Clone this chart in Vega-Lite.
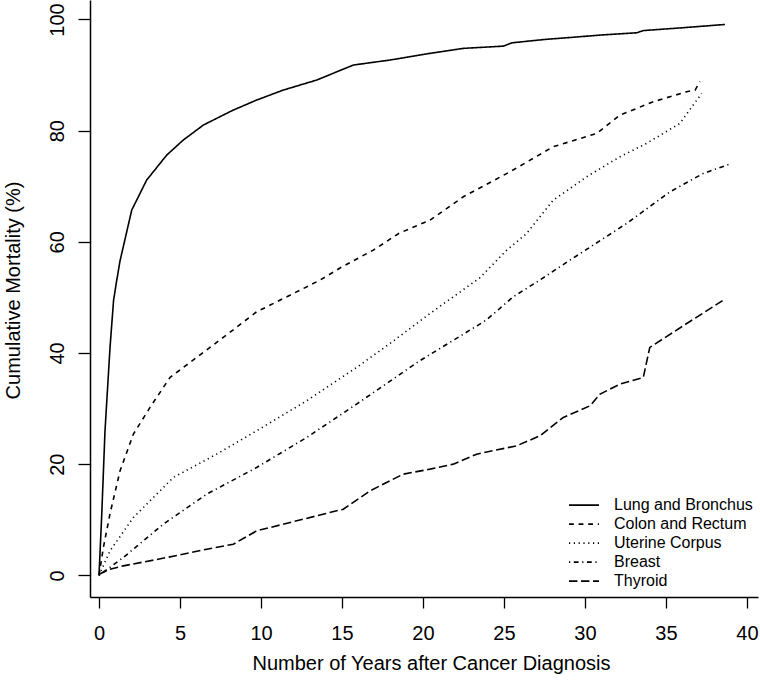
{
  "$schema": "https://vega.github.io/schema/vega-lite/v6.json",
  "width": 668,
  "height": 597,
  "autosize": {"type": "none"},
  "padding": {"left": 90, "top": 0, "right": 2, "bottom": 95},
  "background": "white",
  "config": {
    "view": {"stroke": null},
    "font": "Liberation Sans",
    "axis": {
      "domainColor": "black",
      "domainWidth": 1.5,
      "tickColor": "black",
      "tickWidth": 1.3,
      "labelColor": "black",
      "titleColor": "black",
      "labelFont": "Liberation Sans",
      "titleFont": "Liberation Sans",
      "labelFontSize": 20,
      "titleFontSize": 20,
      "titleFontWeight": "normal",
      "grid": false
    }
  },
  "data": {
    "values": [
      {"cancer": "Lung and Bronchus", "years": 0, "pct": 0},
      {"cancer": "Lung and Bronchus", "years": 0.17, "pct": 11},
      {"cancer": "Lung and Bronchus", "years": 0.37, "pct": 26},
      {"cancer": "Lung and Bronchus", "years": 0.68, "pct": 41},
      {"cancer": "Lung and Bronchus", "years": 0.9, "pct": 49.5},
      {"cancer": "Lung and Bronchus", "years": 1.09, "pct": 53},
      {"cancer": "Lung and Bronchus", "years": 1.3, "pct": 56.6},
      {"cancer": "Lung and Bronchus", "years": 2.02, "pct": 65.7},
      {"cancer": "Lung and Bronchus", "years": 2.94, "pct": 71.1},
      {"cancer": "Lung and Bronchus", "years": 4.18, "pct": 75.6},
      {"cancer": "Lung and Bronchus", "years": 5.2, "pct": 78.3},
      {"cancer": "Lung and Bronchus", "years": 6.44, "pct": 81.0},
      {"cancer": "Lung and Bronchus", "years": 7.67, "pct": 82.8},
      {"cancer": "Lung and Bronchus", "years": 8.29, "pct": 83.7},
      {"cancer": "Lung and Bronchus", "years": 9.73, "pct": 85.5},
      {"cancer": "Lung and Bronchus", "years": 11.38, "pct": 87.3},
      {"cancer": "Lung and Bronchus", "years": 13.44, "pct": 89.1},
      {"cancer": "Lung and Bronchus", "years": 15.7, "pct": 91.8},
      {"cancer": "Lung and Bronchus", "years": 17.96, "pct": 92.7},
      {"cancer": "Lung and Bronchus", "years": 20.43, "pct": 93.9},
      {"cancer": "Lung and Bronchus", "years": 22.5, "pct": 94.8},
      {"cancer": "Lung and Bronchus", "years": 24.96, "pct": 95.2},
      {"cancer": "Lung and Bronchus", "years": 25.5, "pct": 95.8},
      {"cancer": "Lung and Bronchus", "years": 27.5, "pct": 96.4},
      {"cancer": "Lung and Bronchus", "years": 29.28, "pct": 96.8},
      {"cancer": "Lung and Bronchus", "years": 31.0, "pct": 97.2},
      {"cancer": "Lung and Bronchus", "years": 33.19, "pct": 97.6},
      {"cancer": "Lung and Bronchus", "years": 33.6, "pct": 98.0},
      {"cancer": "Lung and Bronchus", "years": 36.0, "pct": 98.5},
      {"cancer": "Lung and Bronchus", "years": 38.64, "pct": 99.1},
      {"cancer": "Colon and Rectum", "years": 0, "pct": 0},
      {"cancer": "Colon and Rectum", "years": 0.27, "pct": 5},
      {"cancer": "Colon and Rectum", "years": 0.68, "pct": 11.1},
      {"cancer": "Colon and Rectum", "years": 1.3, "pct": 18.8},
      {"cancer": "Colon and Rectum", "years": 2.12, "pct": 25.4},
      {"cancer": "Colon and Rectum", "years": 3.15, "pct": 30.2},
      {"cancer": "Colon and Rectum", "years": 4.38, "pct": 35.6},
      {"cancer": "Colon and Rectum", "years": 5.62, "pct": 38.3},
      {"cancer": "Colon and Rectum", "years": 7.67, "pct": 42.8},
      {"cancer": "Colon and Rectum", "years": 9.73, "pct": 47.4},
      {"cancer": "Colon and Rectum", "years": 11.79, "pct": 50.4},
      {"cancer": "Colon and Rectum", "years": 13.64, "pct": 53.1},
      {"cancer": "Colon and Rectum", "years": 15.0, "pct": 55.5},
      {"cancer": "Colon and Rectum", "years": 16.93, "pct": 58.5},
      {"cancer": "Colon and Rectum", "years": 18.5, "pct": 61.5},
      {"cancer": "Colon and Rectum", "years": 20.43, "pct": 63.9},
      {"cancer": "Colon and Rectum", "years": 22.49, "pct": 68.1},
      {"cancer": "Colon and Rectum", "years": 25.37, "pct": 72.6},
      {"cancer": "Colon and Rectum", "years": 28.04, "pct": 77.1},
      {"cancer": "Colon and Rectum", "years": 30.72, "pct": 79.5},
      {"cancer": "Colon and Rectum", "years": 32.16, "pct": 82.8},
      {"cancer": "Colon and Rectum", "years": 34.22, "pct": 85.2},
      {"cancer": "Colon and Rectum", "years": 36.28, "pct": 87.0},
      {"cancer": "Colon and Rectum", "years": 36.8, "pct": 87.3},
      {"cancer": "Colon and Rectum", "years": 37.1, "pct": 88.8},
      {"cancer": "Uterine Corpus", "years": 0, "pct": 0},
      {"cancer": "Uterine Corpus", "years": 0.68, "pct": 4.4},
      {"cancer": "Uterine Corpus", "years": 2.12, "pct": 10.4},
      {"cancer": "Uterine Corpus", "years": 4.59, "pct": 17.6},
      {"cancer": "Uterine Corpus", "years": 7.26, "pct": 21.8},
      {"cancer": "Uterine Corpus", "years": 9.73, "pct": 26.0},
      {"cancer": "Uterine Corpus", "years": 12.82, "pct": 31.4},
      {"cancer": "Uterine Corpus", "years": 15.9, "pct": 37.4},
      {"cancer": "Uterine Corpus", "years": 17.96, "pct": 41.7},
      {"cancer": "Uterine Corpus", "years": 20.43, "pct": 47.1},
      {"cancer": "Uterine Corpus", "years": 21.87, "pct": 50.1},
      {"cancer": "Uterine Corpus", "years": 23.5, "pct": 53.5},
      {"cancer": "Uterine Corpus", "years": 25.17, "pct": 58.5},
      {"cancer": "Uterine Corpus", "years": 26.4, "pct": 61.5},
      {"cancer": "Uterine Corpus", "years": 28.04, "pct": 67.5},
      {"cancer": "Uterine Corpus", "years": 30.1, "pct": 71.7},
      {"cancer": "Uterine Corpus", "years": 32.16, "pct": 75.3},
      {"cancer": "Uterine Corpus", "years": 33.8, "pct": 77.7},
      {"cancer": "Uterine Corpus", "years": 35.86, "pct": 81.3},
      {"cancer": "Uterine Corpus", "years": 37.2, "pct": 86.7},
      {"cancer": "Breast", "years": 0, "pct": 0},
      {"cancer": "Breast", "years": 1.5, "pct": 3.2},
      {"cancer": "Breast", "years": 3.97, "pct": 9.2},
      {"cancer": "Breast", "years": 6.65, "pct": 14.6},
      {"cancer": "Breast", "years": 9.73, "pct": 19.4},
      {"cancer": "Breast", "years": 12.82, "pct": 24.8},
      {"cancer": "Breast", "years": 15.9, "pct": 30.8},
      {"cancer": "Breast", "years": 19.8, "pct": 38.6},
      {"cancer": "Breast", "years": 23.9, "pct": 45.9},
      {"cancer": "Breast", "years": 25.57, "pct": 50.1},
      {"cancer": "Breast", "years": 27.2, "pct": 53.1},
      {"cancer": "Breast", "years": 29.07, "pct": 56.7},
      {"cancer": "Breast", "years": 32.57, "pct": 63.3},
      {"cancer": "Breast", "years": 35.25, "pct": 69.0},
      {"cancer": "Breast", "years": 37.3, "pct": 72.3},
      {"cancer": "Breast", "years": 39.06, "pct": 74.1},
      {"cancer": "Thyroid", "years": 0, "pct": 0.2},
      {"cancer": "Thyroid", "years": 0.68, "pct": 1.1},
      {"cancer": "Thyroid", "years": 1.5, "pct": 1.7},
      {"cancer": "Thyroid", "years": 4.18, "pct": 3.2},
      {"cancer": "Thyroid", "years": 6.65, "pct": 4.7},
      {"cancer": "Thyroid", "years": 8.29, "pct": 5.6},
      {"cancer": "Thyroid", "years": 9.73, "pct": 8.0},
      {"cancer": "Thyroid", "years": 12.61, "pct": 10.1},
      {"cancer": "Thyroid", "years": 15.08, "pct": 11.9},
      {"cancer": "Thyroid", "years": 16.73, "pct": 15.2},
      {"cancer": "Thyroid", "years": 18.78, "pct": 18.2},
      {"cancer": "Thyroid", "years": 20.43, "pct": 19.1},
      {"cancer": "Thyroid", "years": 21.87, "pct": 20.0},
      {"cancer": "Thyroid", "years": 23.31, "pct": 21.8},
      {"cancer": "Thyroid", "years": 25.78, "pct": 23.3},
      {"cancer": "Thyroid", "years": 27.22, "pct": 25.1},
      {"cancer": "Thyroid", "years": 28.66, "pct": 28.4},
      {"cancer": "Thyroid", "years": 30.31, "pct": 30.5},
      {"cancer": "Thyroid", "years": 30.93, "pct": 32.6},
      {"cancer": "Thyroid", "years": 32.16, "pct": 34.4},
      {"cancer": "Thyroid", "years": 33.6, "pct": 35.6},
      {"cancer": "Thyroid", "years": 34.0, "pct": 41.0},
      {"cancer": "Thyroid", "years": 36.28, "pct": 45.3},
      {"cancer": "Thyroid", "years": 38.54, "pct": 49.5}
    ]
  },
  "mark": {"type": "line", "color": "black", "strokeWidth": 1.6, "strokeCap": "butt"},
  "encoding": {
    "x": {
      "field": "years",
      "type": "quantitative",
      "scale": {"domain": [-0.556, 40.68], "nice": false, "zero": false},
      "axis": {
        "values": [0, 5, 10, 15, 20, 25, 30, 35, 40],
        "title": "Number of Years after Cancer Diagnosis",
        "tickSize": 11,
        "labelPadding": 31,
        "labelBaseline": "alphabetic",
        "labelFlush": false,
        "labelOverlap": false,
        "titleX": 341,
        "titleY": 72,
        "titleBaseline": "alphabetic",
        "titleAlign": "center",
        "titleAnchor": null
      }
    },
    "y": {
      "field": "pct",
      "type": "quantitative",
      "scale": {"domain": [-3.9, 103.5], "nice": false, "zero": false},
      "axis": {
        "values": [0, 20, 40, 60, 80, 100],
        "title": "Cumulative Mortality (%)",
        "tickSize": 12,
        "labelAngle": -90,
        "labelAlign": "center",
        "labelBaseline": "alphabetic",
        "labelPadding": 15,
        "labelFlush": false,
        "labelOverlap": false,
        "titleAngle": -90,
        "titleX": -71,
        "titleY": 290,
        "titleBaseline": "alphabetic",
        "titleAlign": "center"
      }
    },
    "strokeDash": {
      "field": "cancer",
      "type": "nominal",
      "scale": {
        "domain": ["Lung and Bronchus", "Colon and Rectum", "Uterine Corpus", "Breast", "Thyroid"],
        "range": [[1, 0], [4.8, 4.8], [1.2, 3.6], [1.2, 3.6, 4.8, 3.6], [8.4, 3.6]]
      },
      "legend": {
        "title": null,
        "orient": "none",
        "legendX": 478,
        "legendY": 496,
        "symbolType": "stroke",
        "symbolSize": 900,
        "symbolStrokeWidth": 1.6,
        "symbolStrokeColor": "black",
        "labelFont": "Liberation Sans",
        "labelFontSize": 16,
        "labelColor": "black",
        "labelOffset": 14,
        "clipHeight": 18.3,
        "rowPadding": 0,
        "padding": 0,
        "labelLimit": 300
      }
    }
  }
}
